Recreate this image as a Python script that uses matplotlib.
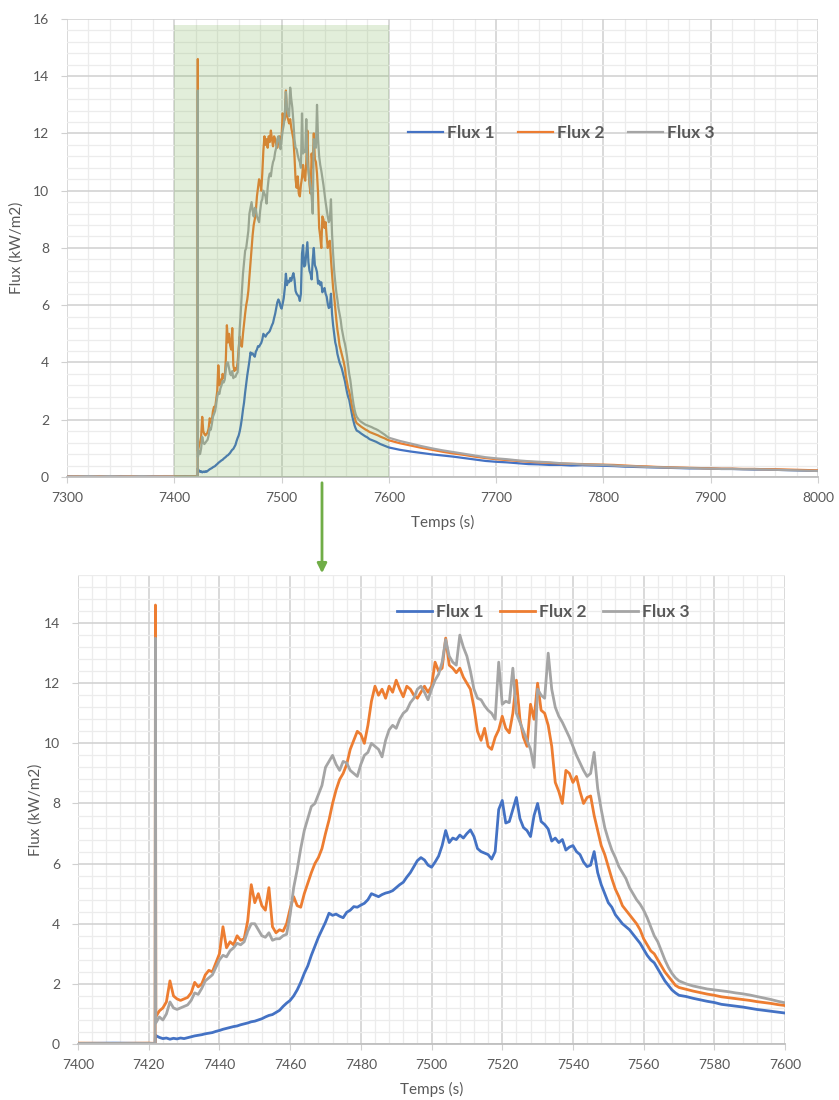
import numpy as np
import matplotlib
matplotlib.use("Agg")
import matplotlib.pyplot as plt
from matplotlib.ticker import MultipleLocator
from matplotlib.patches import FancyArrowPatch

plt.rcParams['font.family'] = ['Lato', 'DejaVu Sans']

# ---------------- data ----------------
series_names = ["Flux 1", "Flux 2", "Flux 3"]
series_colors = ["#4472c4", "#ed7d31", "#a5a5a5"]

# pre-ignition (7300..7420 step 10, then 7421.8)
time_pre = [7300, 7310, 7320, 7330, 7340, 7350, 7360, 7370, 7380, 7390, 7400, 7410, 7420, 7421.8]
flux1_pre = [0.03, 0.02, 0.03, 0.02, 0.02, 0.03, 0.02, 0.02, 0.03, 0.02, 0.02, 0.03, 0.02, 0.02]
flux2_pre = [0.02, 0.03, 0.02, 0.03, 0.02, 0.02, 0.03, 0.02, 0.02, 0.03, 0.03, 0.02, 0.03, 0.02]
flux3_pre = [0.02, 0.02, 0.03, 0.02, 0.03, 0.02, 0.02, 0.03, 0.02, 0.02, 0.02, 0.02, 0.02, 0.02]

# ignition spike
time_spike = [7421.9]
flux1_spike = [0.30]
flux2_spike = [14.6]
flux3_spike = [13.5]

# main event, 1 s step from 7422 to 7570
time_main = list(range(7422, 7571))
flux1_main = [
    0.28, 0.22, 0.18, 0.20, 0.16, 0.19, 0.17, 0.20, 0.18,
    0.21, 0.24, 0.27, 0.29, 0.31, 0.34, 0.36, 0.38, 0.42, 0.45,
    0.49, 0.52, 0.55, 0.58, 0.60, 0.64, 0.67, 0.70, 0.74, 0.76,
    0.80, 0.84, 0.90, 0.95, 0.98, 1.05, 1.12, 1.25, 1.36, 1.45,
    1.60, 1.80, 2.05, 2.35, 2.60, 2.95, 3.25, 3.55, 3.80, 4.05,
    4.35, 4.28, 4.32, 4.25, 4.20, 4.38, 4.45, 4.57, 4.55, 4.62,
    4.68, 4.80, 5.00, 4.95, 4.90, 4.97, 5.02, 5.05, 5.10, 5.20,
    5.30, 5.38, 5.55, 5.70, 5.90, 6.10, 6.20, 6.12, 5.95, 5.88,
    6.05, 6.25, 6.60, 7.10, 6.70, 6.85, 6.80, 6.95, 6.85, 7.00,
    7.12, 6.90, 6.50, 6.40, 6.35, 6.30, 6.15, 6.40, 7.80, 8.10,
    7.35, 7.40, 7.80, 8.20, 7.50, 7.20, 7.10, 6.90, 7.60, 8.00,
    7.40, 7.30, 7.15, 6.75, 6.85, 6.70, 6.80, 6.45, 6.55, 6.60,
    6.40, 6.30, 6.05, 5.90, 5.95, 6.40, 5.70, 5.30, 5.00, 4.70,
    4.55, 4.30, 4.15, 4.00, 3.90, 3.80, 3.65, 3.50, 3.35, 3.15,
    2.95, 2.80, 2.70, 2.50, 2.30, 2.10, 1.95, 1.80, 1.70, 1.62]
flux2_main = [
    0.90, 1.10, 1.20, 1.40, 2.10, 1.60, 1.50, 1.45, 1.50,
    1.55, 1.70, 2.05, 1.90, 2.00, 2.30, 2.45, 2.40, 2.70, 3.00,
    3.90, 3.20, 3.40, 3.30, 3.60, 3.45, 3.50, 4.10, 5.30, 4.70,
    5.00, 4.60, 4.45, 5.20, 3.90, 3.70, 3.80, 3.75, 4.00, 4.50,
    4.90, 4.60, 4.55, 5.00, 5.35, 5.70, 6.00, 6.20, 6.50, 7.00,
    7.45, 8.00, 8.45, 8.80, 9.00, 9.30, 9.80, 10.10, 10.40, 10.30,
    10.00, 10.60, 11.40, 11.90, 11.60, 11.80, 11.50, 11.90, 11.70, 12.10,
    11.80, 11.55, 11.90, 11.80, 11.60, 11.50, 11.70, 11.90, 11.70, 11.90,
    12.70, 12.40, 12.50, 13.50, 12.60, 12.50, 12.35, 12.50, 12.20, 12.00,
    11.80, 11.20, 10.40, 10.10, 10.50, 9.90, 9.80, 10.20, 10.45, 10.90,
    10.50, 10.35, 11.00, 12.10, 10.80, 10.20, 9.90, 11.30, 10.80, 12.00,
    11.10, 11.00, 10.60, 9.90, 8.70, 8.40, 8.00, 9.10, 9.00, 8.70,
    8.90, 8.40, 8.00, 8.20, 8.25, 7.60, 7.10, 6.60, 6.30, 5.90,
    5.50, 5.15, 4.90, 4.60, 4.45, 4.30, 4.15, 4.00, 3.80, 3.50,
    3.30, 3.10, 3.00, 2.80, 2.60, 2.40, 2.25, 2.10, 1.95, 1.88]
flux3_main = [
    0.70, 0.90, 0.80, 1.00, 1.40, 1.20, 1.15, 1.20, 1.25,
    1.30, 1.45, 1.70, 1.65, 1.85, 2.10, 2.20, 2.30, 2.55, 2.80,
    2.95, 2.90, 3.10, 3.20, 3.35, 3.30, 3.40, 3.75, 4.00, 4.00,
    3.80, 3.60, 3.55, 3.70, 3.45, 3.50, 3.50, 3.60, 3.65, 4.30,
    5.20, 5.80, 6.50, 7.10, 7.50, 7.90, 8.00, 8.30, 8.60, 9.20,
    9.40, 9.60, 9.30, 9.10, 9.40, 9.35, 9.10, 9.00, 8.90, 9.30,
    9.60, 9.70, 10.00, 9.90, 9.80, 9.55, 10.10, 10.45, 10.60, 10.50,
    10.80, 11.00, 11.10, 11.35, 11.50, 11.80, 11.90, 11.70, 11.45, 11.80,
    12.10, 12.30, 12.70, 13.45, 12.90, 12.70, 12.60, 13.60, 13.20, 12.90,
    12.40, 11.80, 11.50, 11.45, 11.25, 11.10, 11.00, 10.80, 12.70, 11.30,
    11.40, 11.35, 12.50, 11.00, 10.70, 10.40, 10.10, 9.80, 9.20, 11.80,
    11.60, 11.50, 13.00, 11.80, 11.20, 10.90, 10.70, 10.45, 10.20, 9.90,
    9.60, 9.35, 9.10, 8.90, 9.00, 9.70, 8.50, 7.80, 7.20, 6.80,
    6.45, 6.20, 5.90, 5.70, 5.50, 5.20, 5.00, 4.80, 4.65, 4.45,
    4.20, 3.90, 3.60, 3.40, 3.10, 2.80, 2.55, 2.35, 2.20, 2.10]

# decay, 2 s step from 7572 to 7600
time_tail1 = list(range(7572, 7601, 2))
flux1_tail1 = [1.58, 1.52, 1.47, 1.42, 1.38, 1.32, 1.29, 1.26, 1.23, 1.19, 1.15, 1.12, 1.09, 1.06, 1.03]
flux2_tail1 = [1.82, 1.76, 1.71, 1.66, 1.62, 1.57, 1.54, 1.51, 1.48, 1.45, 1.41, 1.38, 1.35, 1.31, 1.28]
flux3_tail1 = [2.00, 1.93, 1.88, 1.83, 1.80, 1.77, 1.74, 1.70, 1.67, 1.63, 1.58, 1.53, 1.48, 1.42, 1.37]

# long decay, 10 s step from 7610 to 8000
time_tail2 = list(range(7610, 8001, 10))
flux1_tail2 = [0.95, 0.89, 0.84, 0.79, 0.75, 0.71, 0.66, 0.61, 0.56, 0.53,
               0.51, 0.48, 0.45, 0.44, 0.42, 0.42, 0.40, 0.41, 0.40, 0.39,
               0.38, 0.36, 0.35, 0.34, 0.33, 0.32, 0.31, 0.30, 0.30, 0.29,
               0.28, 0.28, 0.27, 0.26, 0.26, 0.25, 0.24, 0.23, 0.22, 0.21]
flux2_tail2 = [1.18, 1.10, 1.02, 0.95, 0.88, 0.82, 0.77, 0.71, 0.66, 0.62,
               0.59, 0.56, 0.53, 0.51, 0.49, 0.47, 0.46, 0.45, 0.44, 0.43,
               0.42, 0.40, 0.38, 0.37, 0.35, 0.34, 0.33, 0.32, 0.31, 0.30,
               0.29, 0.29, 0.28, 0.28, 0.27, 0.27, 0.26, 0.25, 0.24, 0.23]
flux3_tail2 = [1.26, 1.17, 1.08, 1.00, 0.93, 0.87, 0.81, 0.75, 0.69, 0.65,
               0.62, 0.58, 0.55, 0.53, 0.51, 0.48, 0.46, 0.44, 0.43, 0.42,
               0.40, 0.38, 0.37, 0.35, 0.34, 0.33, 0.32, 0.31, 0.30, 0.29,
               0.28, 0.28, 0.27, 0.27, 0.26, 0.25, 0.24, 0.23, 0.22, 0.21]

time = np.concatenate([time_pre, time_spike, time_main, time_tail1, time_tail2]).astype(float)
flux = [
    np.concatenate([flux1_pre, flux1_spike, flux1_main, flux1_tail1, flux1_tail2]),
    np.concatenate([flux2_pre, flux2_spike, flux2_main, flux2_tail1, flux2_tail2]),
    np.concatenate([flux3_pre, flux3_spike, flux3_main, flux3_tail1, flux3_tail2]),
]

zoom_window = (7400, 7600)

# ---------------- style ----------------
TXT = "#595959"
MAJ = "#d0d0d0"
MIN = "#ececec"

fig = plt.figure(figsize=(8.39, 11.0), dpi=100)


def style_axes(ax, xmaj, xmin, ymaj, ymin):
    ax.xaxis.set_major_locator(MultipleLocator(xmaj))
    ax.xaxis.set_minor_locator(MultipleLocator(xmin))
    ax.yaxis.set_major_locator(MultipleLocator(ymaj))
    ax.yaxis.set_minor_locator(MultipleLocator(ymin))
    ax.grid(which="major", color=MAJ, lw=1.1, zorder=0)
    ax.grid(which="minor", color=MIN, lw=0.9, zorder=0)
    ax.set_axisbelow(True)
    for s in ("top", "right", "left"):
        ax.spines[s].set_visible(False)
    ax.spines["bottom"].set_color("#bfbfbf")
    ax.spines["bottom"].set_linewidth(1.3)
    ax.tick_params(which="major", length=4, color=MAJ, labelcolor=TXT, labelsize=10, pad=9)
    ax.tick_params(which="minor", length=0)
    ax.tick_params(axis="x", pad=7)
    ax.set_ylabel("Flux (kW/m2)", color=TXT, fontsize=11)
    ax.set_xlabel("Temps (s)", color=TXT, fontsize=11, labelpad=8)


# top chart
ax1 = fig.add_axes([0.0799, 0.5664, 0.8951, 0.4164])
for y, c, n in zip(flux, series_colors, series_names):
    ax1.plot(time, y, color=c, lw=1.6, label=n, zorder=2)
ax1.set_xlim(7300, 8000)
ax1.set_ylim(0, 16)
style_axes(ax1, 100, 20, 2, 0.4)
ax1.axvspan(zoom_window[0], zoom_window[1], ymin=0, ymax=15.8 / 16,
            color="#70ad47", alpha=0.2, lw=0, zorder=3)
leg1 = ax1.legend(loc="center left", bbox_to_anchor=(0.433, 0.751), ncol=3, frameon=False,
                  handlelength=2.0, handletextpad=0.25, columnspacing=1.35,
                  prop={"weight": "bold", "size": 12.5})
for t in leg1.get_texts():
    t.set_color(TXT)
ax1.yaxis.set_label_coords(-0.058, 0.5)

# bottom chart (zoom)
ax2 = fig.add_axes([0.0930, 0.0509, 0.8427, 0.4264])
for y, c, n in zip(flux, series_colors, series_names):
    ax2.plot(time, y, color=c, lw=2.0, label=n, zorder=2)
ax2.set_xlim(*zoom_window)
ax2.set_ylim(0, 15.6)
style_axes(ax2, 20, 4, 2, 0.4)
ax2.set_yticks(np.arange(0, 15, 2))
leg2 = ax2.legend(loc="center left", bbox_to_anchor=(0.429, 0.921), ncol=3, frameon=False,
                  handlelength=2.0, handletextpad=0.25, columnspacing=0.95,
                  prop={"weight": "bold", "size": 12.5})
for t in leg2.get_texts():
    t.set_color(TXT)
ax2.yaxis.set_label_coords(-0.05, 0.5)

# green arrow linking the two charts
arrow = FancyArrowPatch((322 / 839, 1 - 480 / 1100), (322 / 839, 1 - 576 / 1100),
                        transform=fig.transFigure, arrowstyle="-|>", mutation_scale=14,
                        color="#70ad47", lw=2)
fig.add_artist(arrow)

fig.savefig("out.png", dpi=100, facecolor="white")
